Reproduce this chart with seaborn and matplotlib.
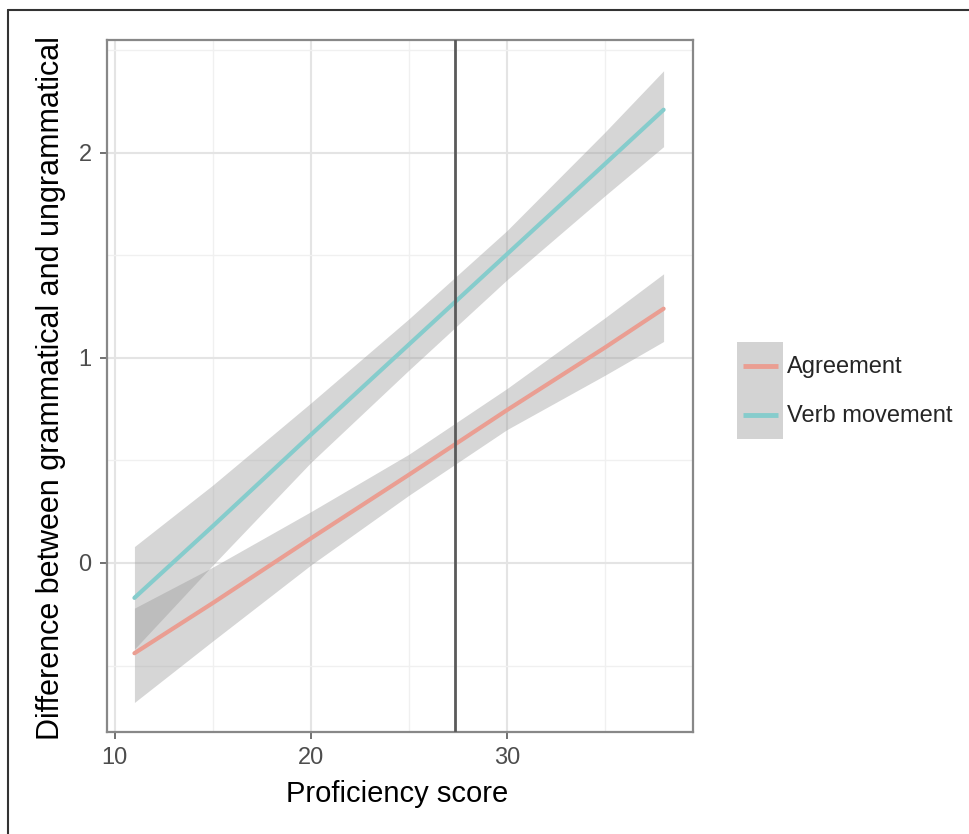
import numpy as np
import pandas as pd
import matplotlib
matplotlib.use("Agg")
import matplotlib.pyplot as plt
from matplotlib.lines import Line2D
from matplotlib.patches import Rectangle
import seaborn as sns

# ---- data ----
proficiency = [11, 15, 20, 25, 30, 35, 38]
agreement_fit = [-0.44, -0.195, 0.12, 0.43, 0.745, 1.05, 1.24]
agreement_lo = [-0.68, -0.38, -0.01, 0.33, 0.65, 0.915, 1.08]
agreement_hi = [-0.22, -0.02, 0.25, 0.53, 0.85, 1.195, 1.41]
verb_fit = [-0.17, 0.18, 0.625, 1.065, 1.505, 1.945, 2.21]
verb_lo = [-0.42, -0.01, 0.49, 0.94, 1.38, 1.79, 2.03]
verb_hi = [0.08, 0.38, 0.78, 1.19, 1.62, 2.10, 2.40]
conditions = ["Agreement", "Verb movement"]
cutoff = 27.35
x_ticks = [10, 20, 30]
y_ticks = [0, 1, 2]

# ---- style ----
sns.set_theme(style="white")
plt.rcParams["font.family"] = ["Liberation Sans", "DejaVu Sans"]

colors = {"Agreement": "#EA9E92", "Verb movement": "#86CCCC"}

fig = plt.figure(figsize=(9.7, 8.34), dpi=100)
ax = fig.add_axes([107 / 970, 1 - 732 / 834, (693 - 107) / 970, (732 - 40) / 834])

df = pd.DataFrame({
    "Proficiency score": proficiency * 2,
    "fit": agreement_fit + verb_fit,
    "Condition": [conditions[0]] * len(proficiency) + [conditions[1]] * len(proficiency),
})

ax.fill_between(proficiency, agreement_lo, agreement_hi, color="#999999", alpha=0.4,
                linewidth=0, zorder=1)
ax.fill_between(proficiency, verb_lo, verb_hi, color="#999999", alpha=0.4,
                linewidth=0, zorder=1)
sns.lineplot(data=df, x="Proficiency score", y="fit", hue="Condition",
             palette=colors, linewidth=3.0, legend=False, errorbar=None, ax=ax, zorder=2)

ax.axvline(cutoff, color="#5a5a5a", linewidth=2.0, zorder=3)

ax.set_xlim(9.6, 39.5)
ax.set_ylim(-0.824, 2.55)
ax.set_xticks(x_ticks)
ax.set_xticks([15, 25, 35], minor=True)
ax.set_yticks(y_ticks)
ax.set_yticks([-0.5, 0.5, 1.5, 2.5], minor=True)
ax.set_xticklabels([str(v) for v in x_ticks])
ax.set_yticklabels([str(v) for v in y_ticks])

ax.set_axisbelow(True)
ax.grid(which="major", color="#E4E4E4", linewidth=1.5)
ax.grid(which="minor", color="#F0F0F0", linewidth=1.0)
ax.tick_params(which="major", direction="out", length=5, width=1.3, color="#666666",
               labelsize=17, labelcolor="#4D4D4D", pad=6, bottom=True, left=True)
ax.tick_params(which="minor", length=0)
for sp in ax.spines.values():
    sp.set_color("#888888")
    sp.set_linewidth(1.6)

ax.set_xlabel("Proficiency score", fontsize=21, color="black")
ax.set_ylabel("Difference between grammatical and ungrammatical", fontsize=22,
              color="black")
ax.xaxis.set_label_coords(0.495, -0.07)
ax.yaxis.set_label_coords(-0.07, 0.497)


# legend: grey key background with an inset coloured line
class KeyHandler:
    def __init__(self, color):
        self.color = color

    def legend_artist(self, legend, orig_handle, fontsize, handlebox):
        x0, y0 = handlebox.xdescent, handlebox.ydescent
        w, h = handlebox.width, handlebox.height
        tr = handlebox.get_transform()
        rect = Rectangle((-x0, -y0), w, h, facecolor="#D3D3D3", edgecolor="none",
                         transform=tr)
        line = Line2D([-x0 + 0.12 * w, -x0 + 0.88 * w], [-y0 + h / 2] * 2,
                      color=self.color, linewidth=3.5, solid_capstyle="butt",
                      transform=tr)
        handlebox.add_artist(rect)
        handlebox.add_artist(line)
        return rect


handles = [Line2D([0], [0], color=colors[c]) for c in conditions]
hmap = {h: KeyHandler(colors[c]) for h, c in zip(handles, conditions)}
fig.legend(handles, conditions, handler_map=hmap,
           loc="center left", bbox_to_anchor=(737 / 970, 1 - 390.5 / 834),
           frameon=False, fontsize=17, handlelength=1.95, handleheight=2.81,
           labelspacing=0.0, handletextpad=0.15, borderpad=0, borderaxespad=0)

# outer frame of the image
fig.add_artist(Line2D([8 / 970, 1], [1 - 10 / 834] * 2, transform=fig.transFigure,
                      color="#333333", linewidth=1.5))
fig.add_artist(Line2D([8 / 970] * 2, [0, 1 - 10 / 834], transform=fig.transFigure,
                      color="#333333", linewidth=1.5))

fig.savefig("out.png", dpi=100)
